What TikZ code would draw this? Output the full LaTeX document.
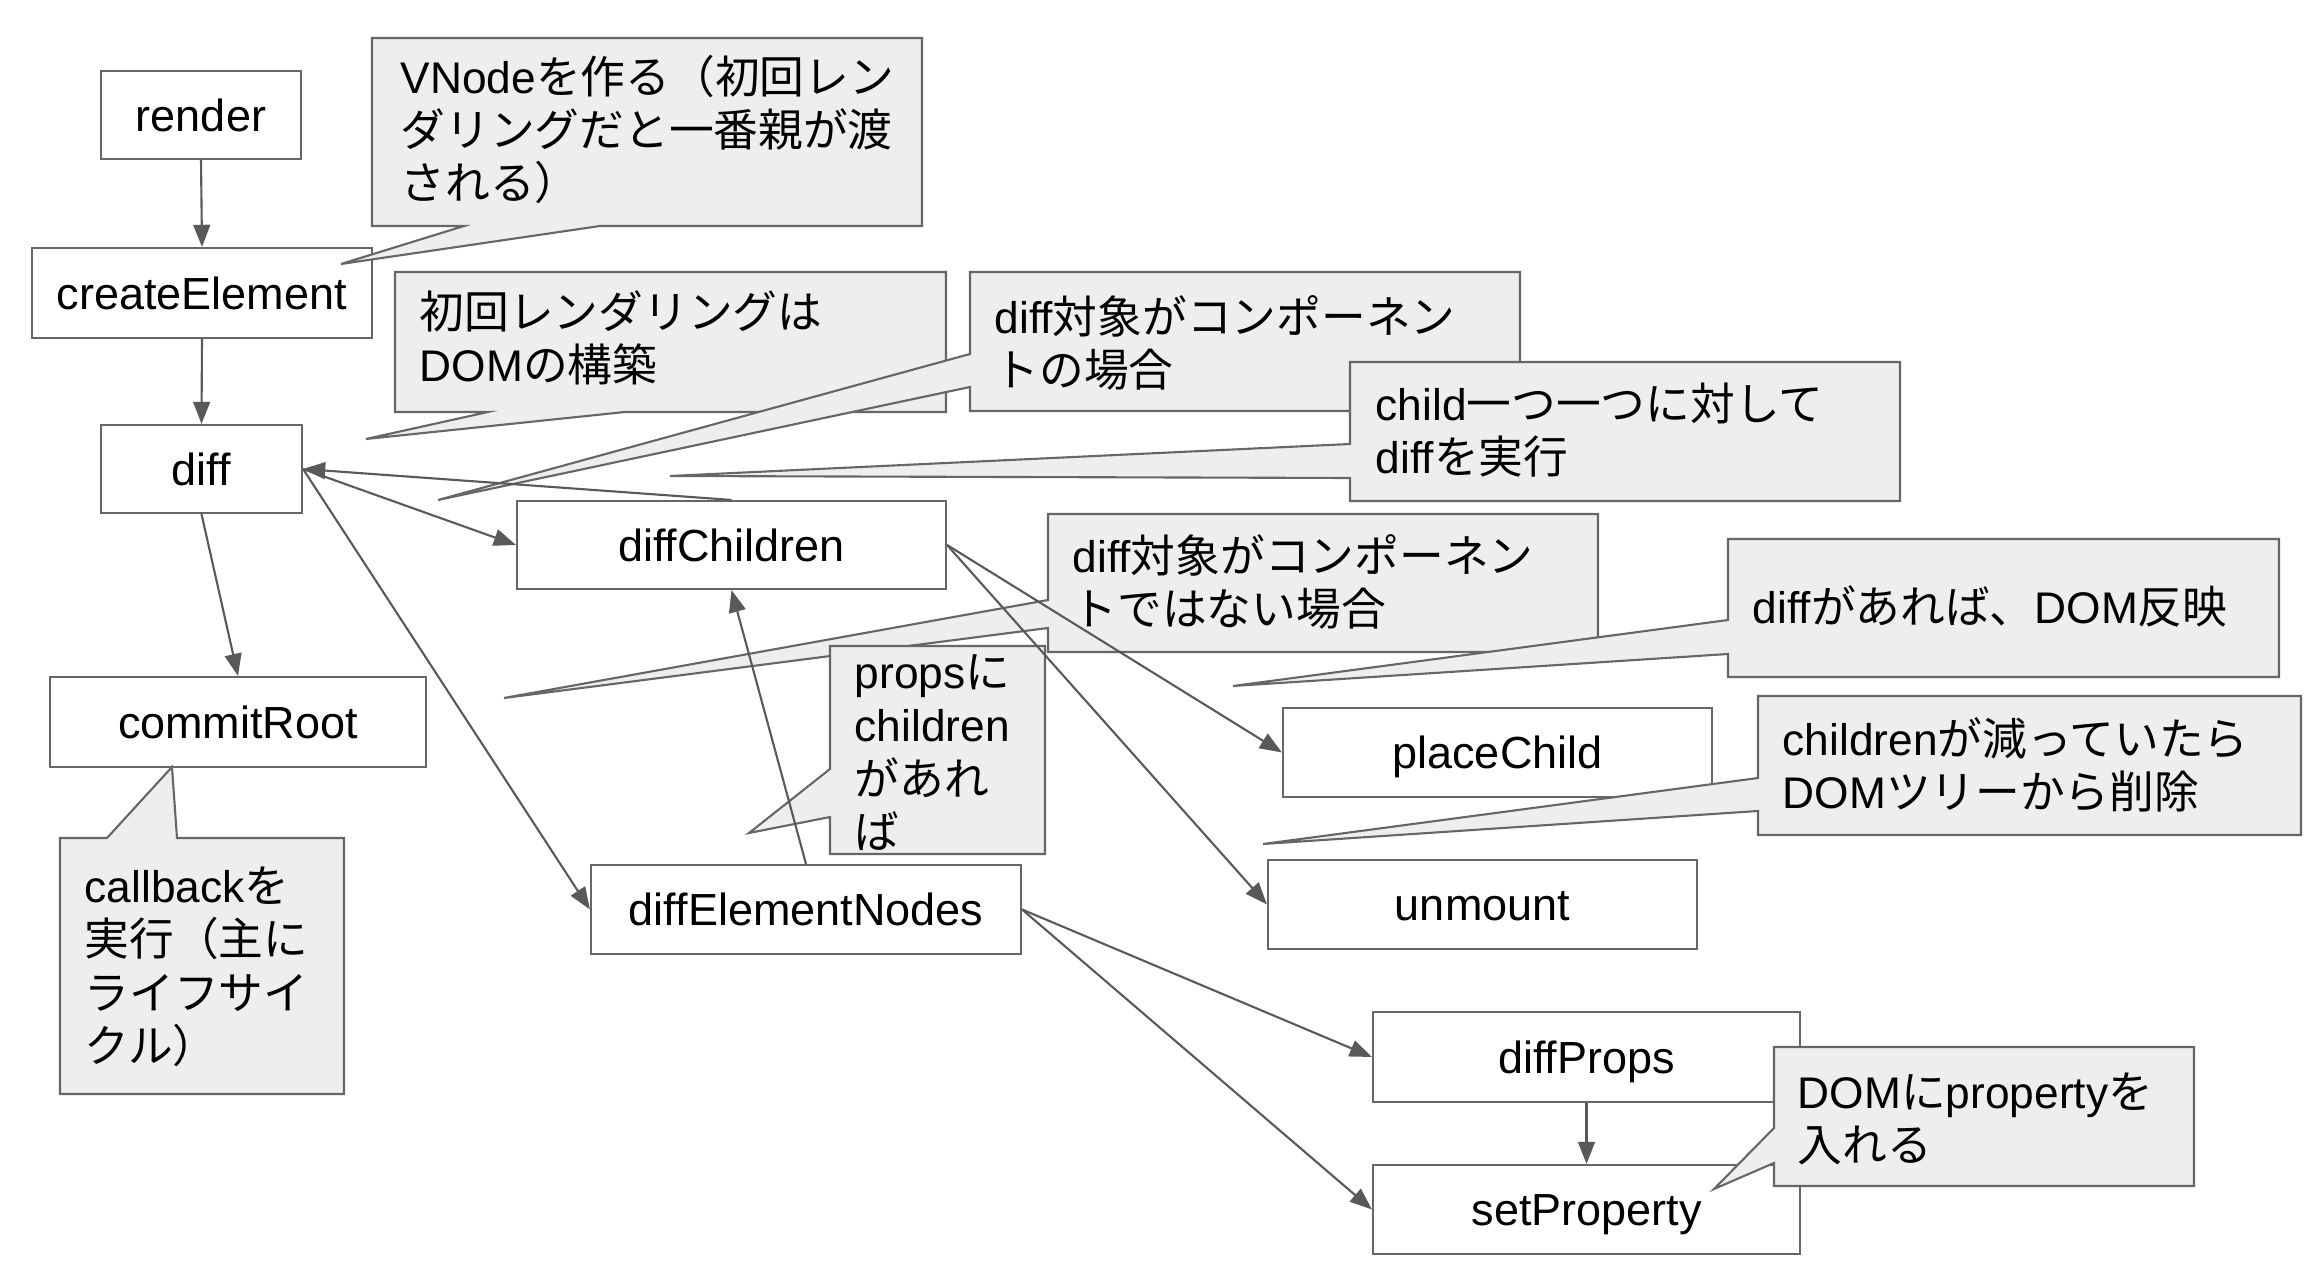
\documentclass[tikz,border=0pt]{standalone}
\usepackage{fontspec}
\setmainfont{Liberation Sans}
\newfontfamily\jpfont[Scale=1.01]{Noto Sans CJK JP}
\newcommand{\jpn}[1]{{\jpfont #1}}
\usetikzlibrary{arrows.meta}

\definecolor{edgegray}{HTML}{595959}
\definecolor{boxgray}{HTML}{666666}
\definecolor{notefill}{HTML}{EEEEEE}

\tikzset{
  box/.style={draw=boxgray, line width=0.6pt, fill=white, inner sep=0pt,
    font=\fontsize{12.8pt}{15pt}\selectfont, text height=9.2pt, text depth=0pt},
  note/.style={draw=boxgray, line width=0.6pt, fill=notefill},
  % base west = baseline of the last line
  notetext/.style={anchor=base west, align=left, inner sep=0pt,
    font=\fontsize{12.6pt}{15.2pt}\selectfont},
  link/.style={draw=edgegray, line width=0.6pt, -{Triangle[length=6.3pt,width=4.8pt]}},
}

\begin{document}
\begin{tikzpicture}[x=1cm,y=1cm]
    \useasboundingbox (0,0) rectangle (23.04,-12.74);

    % Function boxes (1px of the slide = 0.01cm).
    \node[box, minimum width=2.00cm, minimum height=0.88cm] (render) at (2.01,-1.15) {render};
    \node[box, minimum width=3.40cm, minimum height=0.90cm] (createElement) at (2.02,-2.93) {createElement};
    \node[box, minimum width=2.01cm, minimum height=0.88cm] (diff) at (2.015,-4.69) {diff};
    \node[box, minimum width=4.29cm, minimum height=0.88cm] (diffChildren) at (7.315,-5.45) {diffChildren};
    \node[box, minimum width=3.76cm, minimum height=0.90cm] (commitRoot) at (2.38,-7.22) {commitRoot};
    \node[box, minimum width=4.30cm, minimum height=0.89cm] (diffElementNodes) at (8.06,-9.095) {diffElementNodes};
    \node[box, minimum width=4.29cm, minimum height=0.89cm] (placeChild) at (14.975,-7.525) {placeChild};
    \node[box, minimum width=4.29cm, minimum height=0.89cm] (unmount) at (14.825,-9.045) {unmount};
    \node[box, minimum width=4.27cm, minimum height=0.90cm] (diffProps) at (15.865,-10.57) {diffProps};
    \node[box, minimum width=4.27cm, minimum height=0.89cm] (setProperty) at (15.865,-12.095) {setProperty};

    % Callouts: body plus wedge, then the text.
    \draw[note] (3.72,-0.38) -- (9.22,-0.38) -- (9.22,-2.26) -- (6.00,-2.26) -- (3.41,-2.64) -- (4.64,-2.26) -- (3.72,-2.26) -- cycle;
    \node[notetext] (noteVNode) at (4.00,-2.00)
      {VNode\jpn{を作る（初回レン}\\\jpn{ダリングだと一番親が渡}\\\jpn{される）}};

    \draw[note] (3.95,-2.72) -- (9.46,-2.72) -- (9.46,-4.12) -- (6.25,-4.12) -- (3.66,-4.39) -- (4.88,-4.12) -- (3.95,-4.12) -- cycle;
    \node[notetext] (noteFirst) at (4.19,-3.815) {\jpn{初回レンダリングは}\\DOM\jpn{の構築}};

    \draw[note] (9.70,-2.72) -- (15.20,-2.72) -- (15.20,-4.11) -- (9.70,-4.11) -- (9.70,-3.87) -- (4.38,-5.00) -- (9.70,-3.54) -- cycle;
    \node[notetext] (noteComp) at (9.94,-3.865) {diff\jpn{対象がコンポーネン}\\\jpn{トの場合}};

    \draw[note] (13.50,-3.62) -- (19.00,-3.62) -- (19.00,-5.01) -- (13.50,-5.01) -- (13.50,-4.78) -- (6.70,-4.76) -- (13.50,-4.44) -- cycle;
    \node[notetext] (noteEach) at (13.75,-4.735) {child\jpn{一つ一つに対して}\\diff\jpn{を実行}};

    \draw[note] (10.48,-5.14) -- (15.98,-5.14) -- (15.98,-6.52) -- (10.48,-6.52) -- (10.48,-6.28) -- (5.04,-6.98) -- (10.48,-6.00) -- cycle;
    \node[notetext] (noteNotComp) at (10.72,-6.255) {diff\jpn{対象がコンポーネン}\\\jpn{トではない場合}};

    \draw[note] (17.28,-5.39) -- (22.79,-5.39) -- (22.79,-6.77) -- (17.28,-6.77) -- (17.28,-6.54) -- (12.33,-6.86) -- (17.28,-6.20) -- cycle;
    \node[notetext] (noteApply) at (17.52,-6.24) {diff\jpn{があれば、}DOM\jpn{反映}};

    \draw[note] (17.58,-6.96) -- (23.01,-6.96) -- (23.01,-8.35) -- (17.58,-8.35) -- (17.58,-8.11) -- (12.63,-8.44) -- (17.58,-7.78) -- cycle;
    \node[notetext] (noteRemove) at (17.82,-8.085) {children\jpn{が減っていたら}\\DOM\jpn{ツリーから削除}};

    \draw[note] (8.30,-6.46) -- (10.45,-6.46) -- (10.45,-8.54) -- (8.30,-8.54) -- (8.30,-8.17) -- (7.49,-8.33) -- (8.30,-7.69) -- cycle;
    \node[notetext] (noteProps) at (8.54,-8.485) {props\jpn{に}\\children\\\jpn{があれ}\\\jpn{ば}};

    \draw[note] (0.60,-8.38) -- (1.07,-8.38) -- (1.72,-7.67) -- (1.77,-8.38) -- (3.44,-8.38) -- (3.44,-10.94) -- (0.60,-10.94) -- cycle;
    \node[notetext] (noteCallback) at (0.84,-10.625) {callback\jpn{を}\\\jpn{実行（主に}\\\jpn{ライフサイ}\\\jpn{クル）}};

    \draw[note] (17.74,-10.47) -- (21.94,-10.47) -- (21.94,-11.86) -- (17.74,-11.86) -- (17.74,-11.63) -- (17.14,-11.89) -- (17.74,-11.28) -- cycle;
    \node[notetext] (noteProperty) at (17.97,-11.615) {DOM\jpn{に}property\jpn{を}\\\jpn{入れる}};

    % Calls between functions.
    \draw[link] (render.south) -- (createElement.north);
    \draw[link] (createElement.south) -- (diff.north);
    \draw[link] (diff.east) -- (diffChildren.west);
    \draw[link] (diffChildren.north) -- (diff.east);
    \draw[link] (diff.south) -- (commitRoot.north);
    \draw[link] (diff.east) -- (diffElementNodes.west);
    \draw[link] (diffElementNodes.north) -- (diffChildren.south);
    \draw[link] (diffChildren.east) -- (placeChild.west);
    \draw[link] (diffChildren.east) -- (unmount.west);
    \draw[link] (diffElementNodes.east) -- (diffProps.west);
    \draw[link] (diffElementNodes.east) -- (setProperty.west);
    \draw[link] (diffProps.south) -- (setProperty.north);
\end{tikzpicture}
\end{document}
